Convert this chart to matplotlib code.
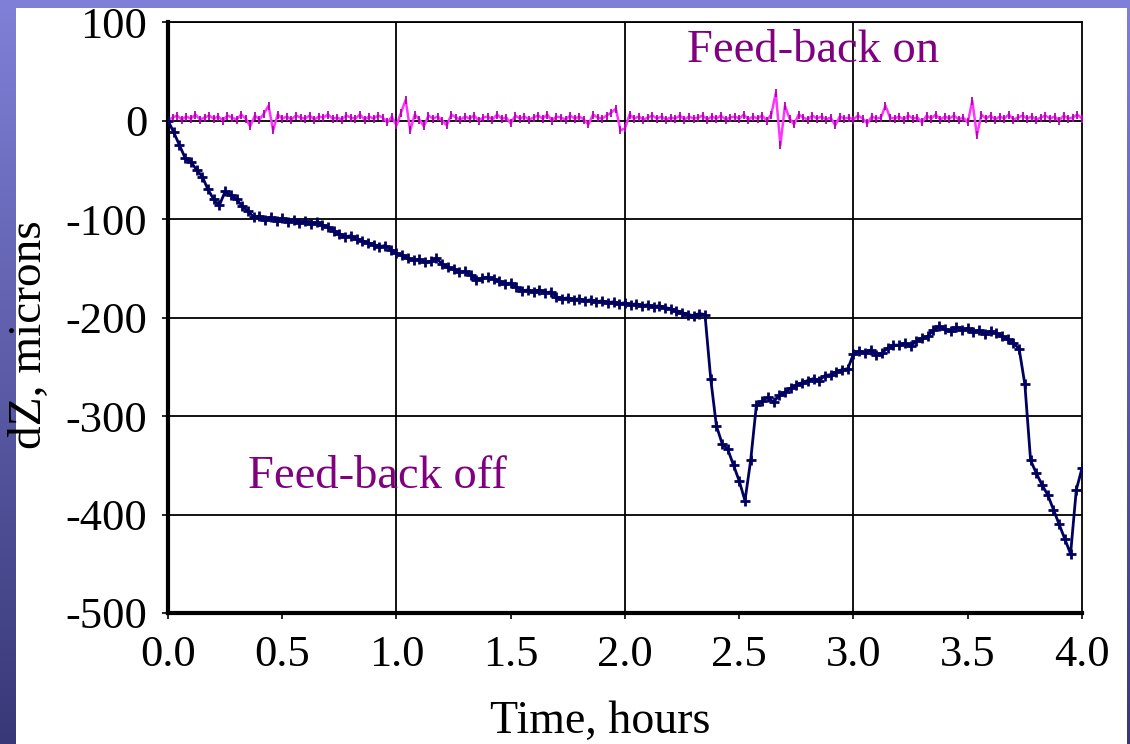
import numpy as np
import matplotlib
matplotlib.use("Agg")
import matplotlib.pyplot as plt
from matplotlib.patches import Rectangle

# Feed-back off: dZ (microns), sampled every 0.025 h from 0 to 4 h
t_off = np.linspace(0.0, 4.0, 161)
dz_off = [
    0, -12, -25, -38, -42, -50, -57, -70,
    -80, -86, -72, -76, -80, -87, -92, -98,
    -97, -101, -98, -102, -99, -103, -101, -104,
    -102, -105, -103, -106, -108, -112, -115, -118,
    -117, -120, -122, -124, -126, -128, -127, -131,
    -135, -137, -140, -142, -141, -144, -143, -140,
    -146, -149, -151, -154, -153, -157, -162, -160,
    -159, -161, -163, -166, -165, -169, -173, -172,
    -174, -172, -175, -174, -179, -181, -180, -182,
    -181, -183, -182, -184, -183, -185, -184, -186,
    -185, -187, -186, -188, -187, -189, -188, -190,
    -191, -193, -195, -197, -198, -196, -197, -262,
    -310, -328, -334, -350, -366, -386, -345, -289,
    -285, -281, -286, -279, -276, -272, -269, -266,
    -264, -262, -264, -259, -258, -255, -253, -252,
    -237, -234, -236, -233, -238, -236, -231, -228,
    -228, -226, -229, -224, -221, -219, -213, -209,
    -212, -214, -210, -213, -211, -215, -213, -217,
    -214, -216, -219, -222, -226, -232, -268, -345,
    -358, -370, -380, -395, -410, -425, -440, -375,
    -353,
]

# Feed-back on: dZ (microns), sampled every 0.02 h from 0 to 4 h
t_on = np.linspace(0.0, 4.0, 201)
dz_on = [
    0, 3, 5, 1, 4, 2, 6, 1, 3, 5,
    2, 4, 0, 5, 3, 1, 6, 2, -6, 5,
    1, 7, 15, -10, 6, 2, 4, 1, 5, 3,
    2, 5, 1, 4, 3, 6, 2, 3, 1, 5,
    3, 2, 6, 1, 4, 2, 5, 3, -2, 4,
    -5, 8, 21, -10, 6, 1, -6, 5, 2, 4,
    0, -5, 6, 3, 1, 4, 2, 5, 0, 3,
    4, 1, 6, 2, 3, -3, 5, 2, 4, 1,
    3, 5, 2, 6, 0, 4, 3, 1, 5, 2,
    4, 1, -4, 6, 3, 2, 5, 8, 12, -10,
    -8, 6, 2, 4, 1, 3, 5, 2, 4, 1,
    3, 2, 5, 1, 4, 2, 3, 5, 1, 4,
    2, 5, 1, 3, 4, 2, 6, 1, 4, 2,
    5, 0, 6, 28, -25, 15, 2, -4, 6, 3,
    1, 5, 2, 4, 1, 3, -5, 4, 2, 3,
    1, 5, 2, -3, 4, 2, 3, 15, 3, 2,
    4, 1, 5, 2, 3, -2, 5, 2, 6, 1,
    4, 2, 5, 1, 3, -2, 20, -15, 6, 2,
    5, 1, 4, 2, 6, 1, 3, 5, 2, 4,
    1, 3, 5, 2, 4, 0, 5, 2, 3, 6,
    2,
]

x_ticks = [0.0, 0.5, 1.0, 1.5, 2.0, 2.5, 3.0, 3.5, 4.0]
y_ticks = [-500, -400, -300, -200, -100, 0, 100]

W, H = 1130, 744
serif = "Liberation Serif"
purple = "#800080"

fig = plt.figure(figsize=(W / 100, H / 100), dpi=100)

# slide background: purple vertical gradient with a white panel on top
bg = fig.add_axes([0, 0, 1, 1], zorder=-10)
top = np.array([128, 128, 216]) / 255
bot = np.array([56, 56, 120]) / 255
frac = np.linspace(0, 1, 256)[:, None, None]
grad = top * (1 - frac) + bot * frac
bg.imshow(np.repeat(grad, 4, axis=1), aspect="auto", extent=[0, 1, 0, 1])
bg.add_patch(Rectangle((16 / W, 0), (1127 - 16) / W, 1 - 8 / H,
                       facecolor="white", edgecolor="none"))
bg.set_xlim(0, 1)
bg.set_ylim(0, 1)
bg.axis("off")

ax = fig.add_axes([168 / W, 1 - 613 / H, (1082 - 168) / W, (613 - 22) / H])
ax.set_facecolor("white")

ax.plot(t_on, dz_on, color="#ff33ff", lw=1.8, marker="|", ms=6,
        mec="#b000b0", mew=1.3, zorder=3)
ax.plot(t_off, dz_off, color="#000060", lw=2.0, marker="+", ms=7,
        mew=2.0, zorder=4)

ax.set_xlim(0, 4)
ax.set_ylim(-500, 100)
ax.set_xticks(x_ticks)
ax.set_xticklabels([f"{v:.1f}" for v in x_ticks])
ax.set_yticks(y_ticks)
ax.set_yticklabels([str(v) for v in y_ticks])

ax.grid(axis="y", color="black", lw=1.3)
for hour in range(1, 4):
    ax.axvline(hour, color="black", lw=1.3, zorder=1)
ax.set_axisbelow(True)

for side in ["top", "right"]:
    ax.spines[side].set_linewidth(1.3)
for side in ["left", "bottom"]:
    ax.spines[side].set_linewidth(3.0)

ax.tick_params(axis="both", direction="out", length=4, width=1.2,
               labelsize=32)
ax.tick_params(axis="y", pad=11)
ax.tick_params(axis="x", pad=12)
for lab in ax.get_xticklabels() + ax.get_yticklabels():
    lab.set_fontfamily(serif)

ax.text(2.27, 59, "Feed-back on", color=purple, fontsize=33.5,
        family=serif, va="baseline", zorder=5)
ax.text(0.35, -373, "Feed-back off", color=purple, fontsize=33.5,
        family=serif, va="baseline", zorder=5)

fig.text(30 / W, 1 - 335 / H, "dZ, microns", rotation=90, ha="center",
         va="center", fontsize=34, family=serif)
fig.text(600 / W, 1 - 722 / H, "Time, hours", ha="center", va="center",
         fontsize=33, family=serif)

fig.savefig("out.png", dpi=100)
